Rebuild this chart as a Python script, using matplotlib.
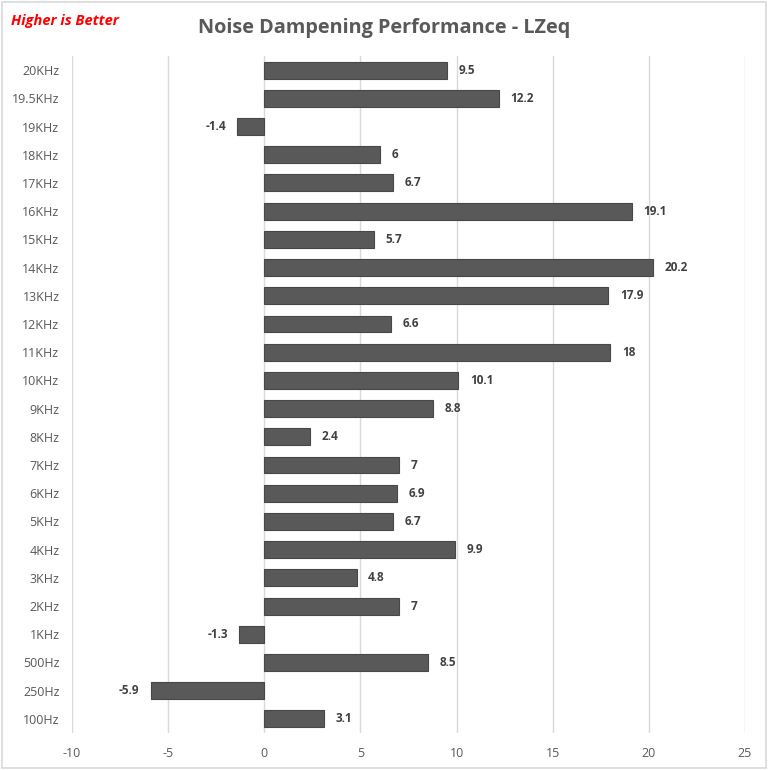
import matplotlib
matplotlib.use("Agg")
import matplotlib.pyplot as plt
from matplotlib.patches import Rectangle

categories = ["100Hz", "250Hz", "500Hz", "1KHz", "2KHz", "3KHz", "4KHz", "5KHz", "6KHz",
              "7KHz", "8KHz", "9KHz", "10KHz", "11KHz", "12KHz", "13KHz", "14KHz", "15KHz",
              "16KHz", "17KHz", "18KHz", "19KHz", "19.5KHz", "20KHz"]
values = [3.1, -5.9, 8.5, -1.3, 7, 4.8, 9.9, 6.7, 6.9, 7, 2.4, 8.8, 10.1, 18, 6.6, 17.9,
          20.2, 5.7, 19.1, 6.7, 6, -1.4, 12.2, 9.5]
xticks = [-10, -5, 0, 5, 10, 15, 20, 25]

plt.rcParams['font.family'] = ['Open Sans', 'DejaVu Sans']

fig = plt.figure(figsize=(7.68, 7.70), dpi=100)
ax = fig.add_axes([72/768, 1-733/770, (745-72)/768, (733-56)/770])

y = list(range(len(categories)))
ax.barh(y, values, height=0.6, color="#595959", edgecolor="#474747", linewidth=0.8, zorder=3)

for yi, v in zip(y, values):
    lbl = f"{v:g}"
    if v >= 0:
        ax.text(v + 0.6, yi, lbl, va="center", ha="left", fontsize=8.5, fontweight="bold", color="#404040")
    else:
        ax.text(v - 0.6, yi, lbl, va="center", ha="right", fontsize=8.5, fontweight="bold", color="#404040")

ax.set_xlim(-10, 25)
ax.set_ylim(-0.5, len(categories) - 0.5)
ax.set_xticks(xticks)
ax.set_xticklabels([str(t) for t in xticks])
ax.set_yticks(y)
ax.set_yticklabels(categories)
ax.tick_params(axis="both", length=0, labelsize=9, colors="#595959")
ax.tick_params(axis="x", pad=10)
ax.tick_params(axis="y", pad=9)
ax.grid(axis="x", color="#d9d9d9", linewidth=1, zorder=0)
for s in ax.spines.values():
    s.set_visible(False)

fig.text(384/768, 1 - 28/770, "Noise Dampening Performance - LZeq", ha="center", va="center",
         fontsize=14.3, fontweight="bold", color="#595959")
fig.text(11/768, 1 - 21/770, "Higher is Better", ha="left", va="center", fontsize=10.5,
         fontweight="bold", fontstyle="italic", color="#ff0000")

fig.patches.append(Rectangle((0.002, 0.002), 0.996, 0.996, transform=fig.transFigure,
                             fill=False, edgecolor="#d9d9d9", linewidth=1.2))

fig.savefig("out.png", dpi=100, facecolor="white")
